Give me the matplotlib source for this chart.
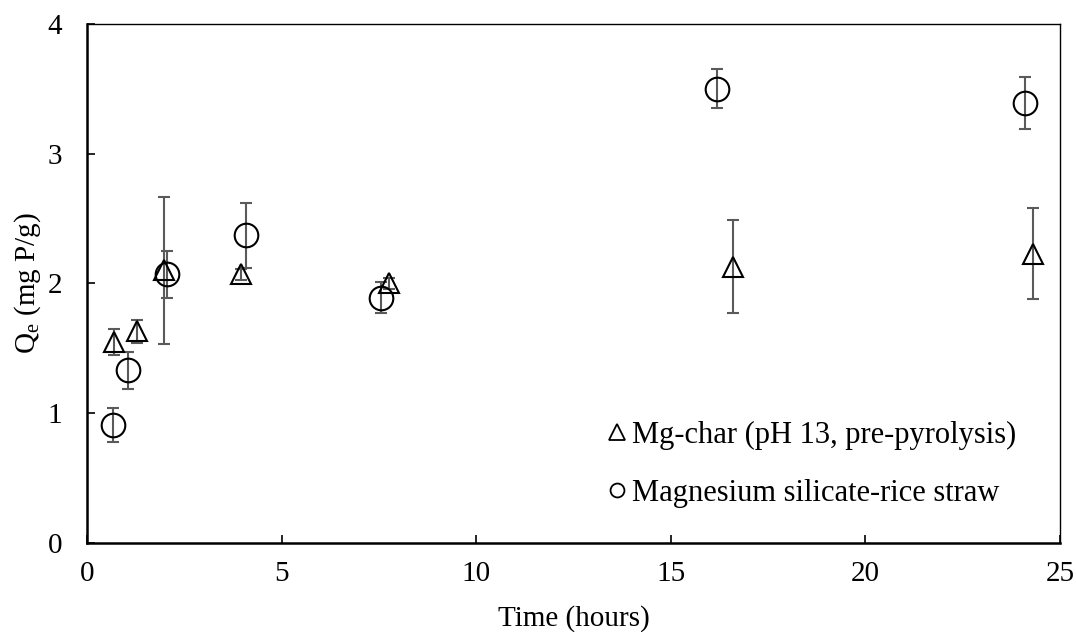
import matplotlib
matplotlib.use("Agg")
import matplotlib.pyplot as plt

plt.rcParams["font.family"] = ["Liberation Serif", "DejaVu Serif"]
plt.rcParams["mathtext.fontset"] = "custom"
plt.rcParams["mathtext.rm"] = "Liberation Serif"
plt.rcParams["mathtext.it"] = "Liberation Serif:italic"

# Mg-char (pH 13, pre-pyrolysis)
tri_time = [0.69, 1.28, 1.97, 3.95, 7.77, 16.6, 24.3]
tri_qe = [1.55, 1.63, 2.10, 2.07, 2.00, 2.13, 2.23]
tri_err = [0.10, 0.09, 0.57, 0.04, 0.04, 0.36, 0.35]

# Magnesium silicate-rice straw
circ_time = [0.66, 1.05, 2.05, 4.08, 7.56, 16.2, 24.1]
circ_qe = [0.91, 1.33, 2.07, 2.37, 1.89, 3.50, 3.39]
circ_err = [0.13, 0.14, 0.18, 0.25, 0.12, 0.15, 0.20]

labels = ["Mg-char (pH 13, pre-pyrolysis)", "Magnesium silicate-rice straw"]

fig = plt.figure(figsize=(10.76, 6.32), dpi=100)
ax = fig.add_axes([0.081, 0.141, 0.904, 0.821])

err_color = "#5a5a5a"
ax.errorbar(tri_time, tri_qe, yerr=tri_err, fmt="^", ms=14, mfc="none",
            mec="black", mew=1.5, ecolor=err_color, elinewidth=1.5,
            capsize=4.5, capthick=1.5, label=labels[0])
ax.errorbar(circ_time, circ_qe, yerr=circ_err, fmt="o", ms=17, mfc="none",
            mec="black", mew=1.5, ecolor=err_color, elinewidth=1.5,
            capsize=4.5, capthick=1.5, label=labels[1])

ax.set_xlim(0, 25)
ax.set_ylim(0, 4)
ax.set_xticks([0, 5, 10, 15, 20, 25])
ax.set_yticks([0, 1, 2, 3, 4])
ax.tick_params(direction="in", length=6, width=1.2, labelsize=21)
ax.tick_params(axis="x", pad=13)
ax.tick_params(axis="y", pad=18)
ax.spines["left"].set_linewidth(1.8)
ax.spines["bottom"].set_linewidth(1.8)
ax.spines["top"].set_linewidth(1.0)
ax.spines["right"].set_linewidth(1.0)

ax.set_xlabel("Time (hours)", fontsize=21, labelpad=13)
ax.set_ylabel(r"$\mathrm{Q_e}$ (mg P/g)", fontsize=21, labelpad=3)

handles, lbls = ax.get_legend_handles_labels()
handles = [h[0] for h in handles]
leg = ax.legend(handles, lbls, loc="upper left", frameon=False, fontsize=22,
                handlelength=0.8, handletextpad=0.1, labelspacing=0.95,
                borderpad=0, borderaxespad=0, bbox_to_anchor=(0.532, 0.235))
leg.legend_handles[0].set_markersize(11)
leg.legend_handles[1].set_markersize(10)
for h in leg.legend_handles:
    h.set_markeredgewidth(1.3)

fig.savefig("out.png", dpi=100)
